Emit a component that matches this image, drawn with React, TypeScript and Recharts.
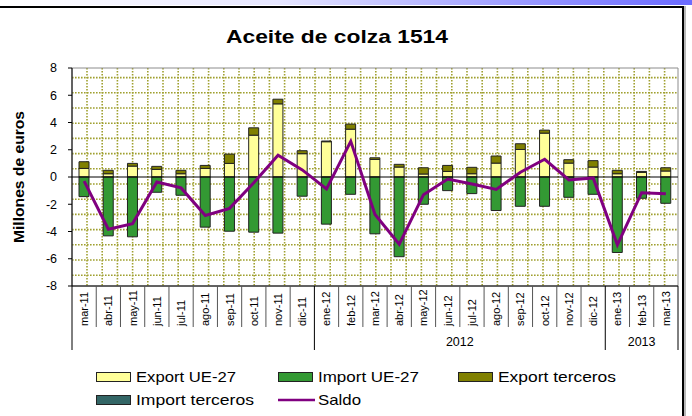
import React from 'react';
import {
  ComposedChart,
  Bar,
  Line,
  XAxis,
  YAxis,
  CartesianGrid,
  ReferenceLine,
  ReferenceArea,
  Legend,
} from 'recharts';

const months = [
  'mar-11', 'abr-11', 'may-11', 'jun-11', 'jul-11', 'ago-11', 'sep-11', 'oct-11', 'nov-11', 'dic-11',
  'ene-12', 'feb-12', 'mar-12', 'abr-12', 'may-12', 'jun-12', 'jul-12', 'ago-12', 'sep-12', 'oct-12', 'nov-12', 'dic-12',
  'ene-13', 'feb-13', 'mar-13',
];

const exportUE = [
  0.63, 0.24, 0.8, 0.56, 0.24, 0.63, 1.0, 3.07, 5.37, 1.71,
  2.59, 3.51, 1.29, 0.73, 0.22, 0.41, 0.24, 1.02, 2.02, 3.22, 1.02, 0.73,
  0.24, 0.34, 0.44,
];

const exportTerceros = [
  0.49, 0.25, 0.2, 0.22, 0.25, 0.22, 0.68, 0.54, 0.34, 0.22,
  0.05, 0.37, 0.12, 0.2, 0.46, 0.44, 0.47, 0.52, 0.42, 0.22, 0.25, 0.47,
  0.25, 0.07, 0.24,
];

const importUE = [
  -1.44, -4.32, -4.39, -1.12, -1.34, -3.68, -3.98, -4.05, -4.12, -1.41,
  -3.46, -1.27, -4.17, -5.85, -2.0, -1.0, -1.22, -2.46, -2.15, -2.15, -1.49, -1.27,
  -5.54, -1.56, -1.93,
];

const importTerceros = [
  0, 0, 0, 0, 0, 0, 0, 0, 0, 0,
  0, 0, 0, 0, 0, 0, 0, 0, 0, 0, 0, 0,
  0, 0, 0,
];

const saldo = [
  -0.3, -3.83, -3.42, -0.37, -0.8, -2.83, -2.3, -0.42, 1.6, 0.52,
  -0.87, 2.62, -2.75, -4.93, -1.3, -0.15, -0.51, -0.91, 0.35, 1.3, -0.22, -0.07,
  -4.98, -1.15, -1.23,
];

const yTicks = [-8, -6, -4, -2, 0, 2, 4, 6, 8];

const yearLabels: Record<string, string> = { '11': '', '12': '2012', '13': '2013' };

const seriesInfo = [
  { key: 'exportUE', name: 'Export UE-27', color: '#ffff99', kind: 'rect' },
  { key: 'importUE', name: 'Import UE-27', color: '#339933', kind: 'rect' },
  { key: 'exportTerceros', name: 'Export terceros', color: '#808000', kind: 'rect' },
  { key: 'importTerceros', name: 'Import terceros', color: '#336666', kind: 'rect' },
  { key: 'saldo', name: 'Saldo', color: '#800080', kind: 'line' },
];

const data = months.map((m, i) => ({
  month: m,
  exportUE: exportUE[i],
  exportTerceros: exportTerceros[i],
  importUE: importUE[i],
  importTerceros: importTerceros[i],
  saldo: saldo[i],
}));

const FONT = "'Liberation Sans', Arial, sans-serif";
const colorOf = (k: string) => seriesInfo.find((s) => s.key === k)!.color;

const yearOf = (m: string) => m.slice(-2);

function MonthTick(props: any) {
  const { x, y, payload } = props;
  const i: number = payload.index ?? props.index;
  const half: number =
    typeof payload.offset === 'number' && payload.offset > 0
      ? payload.offset
      : (props.width || 606) / months.length / 2;
  const yr = yearOf(months[i]);
  const isYearStart = i === 0 || yearOf(months[i - 1]) !== yr;
  const isLast = i === months.length - 1;
  const groupCount = months.filter((m) => yearOf(m) === yr).length;
  const left = x - half;
  const out: React.ReactNode[] = [];
  out.push(
    <line key="sep" x1={left} x2={left} y1={y} y2={y + (isYearStart ? 64 : 41)} stroke={isYearStart ? '#000' : '#555'} strokeWidth={1} />
  );
  if (isLast) {
    out.push(<line key="end" x1={x + half} x2={x + half} y1={y} y2={y + 64} stroke="#000" strokeWidth={1} />);
  }
  if (isYearStart && yearLabels[yr]) {
    out.push(
      <text key="yr" x={left + groupCount * half} y={y + 59.5} textAnchor="middle" fontSize={12.5} fontFamily={FONT} fill="#000">
        {yearLabels[yr]}
      </text>
    );
  }
  out.push(
    <text
      key="lbl"
      x={x}
      y={y + 40}
      dy="0.36em"
      transform={`rotate(-90 ${x} ${y + 40})`}
      textAnchor="start"
      fontSize={11}
      fontFamily={FONT}
      fill="#000"
    >
      {payload.value}
    </text>
  );
  return <g>{out}</g>;
}

const legendCols = [96, 278, 458];
const legendRows = [15, 38];
const legendTextLen = [100, 101, 118, 118, 43];

function LegendContent() {
  return (
    <svg width={692} height={50} style={{ display: 'block' }}>
      {seriesInfo.map((s, idx) => {
        const col = idx < 3 ? idx : idx - 3;
        const row = idx < 3 ? 0 : 1;
        const lx = legendCols[col];
        const cy = legendRows[row];
        return (
          <g key={s.key}>
            {s.kind === 'rect' ? (
              <rect x={lx + 0.5} y={cy - 4.5} width={34} height={9} fill={s.color} stroke="#222" strokeWidth={1} />
            ) : (
              <line x1={lx} x2={lx + 37} y1={cy} y2={cy} stroke={s.color} strokeWidth={2.5} />
            )}
            <text
              x={lx + 40}
              y={cy + 5.3}
              fontSize={15}
              fontFamily={FONT}
              fill="#000"
              textLength={legendTextLen[idx]}
              lengthAdjust="spacingAndGlyphs"
            >
              {s.name}
            </text>
          </g>
        );
      })}
    </svg>
  );
}

const GRID_STEP = 15.2;

export default function App() {
  return (
    <div style={{ position: 'absolute', left: 0, top: 0, width: 692, height: 416, background: '#fff', overflow: 'hidden' }}>
      <div
        style={{
          position: 'absolute',
          left: 0,
          top: 0,
          width: 692,
          height: 5,
          background: 'linear-gradient(90deg, #ffffff 0%, #e6e6ff 40%, #9a9aff 75%, #6a6aff 100%)',
        }}
      />
      <div
        style={{
          position: 'absolute',
          left: -2,
          top: 6,
          width: 686,
          height: 430,
          boxSizing: 'border-box',
          borderTop: '2px solid #000',
          borderRight: '2px solid #000',
          boxShadow: '2px 0 0 #b8b8b8',
        }}
      />
      <div style={{ position: 'absolute', left: 0, top: 0 }}>
        <ComposedChart
          width={692}
          height={416}
          data={data}
          stackOffset="sign"
          margin={{ top: 68, right: 14, bottom: 60, left: 32 }}
        >
          <CartesianGrid
            stroke="#a0a030"
            strokeWidth={1.6}
            strokeDasharray="1.6 1.4"
            horizontalCoordinatesGenerator={({ offset }: any) => {
              const res: number[] = [];
              for (let v = offset.top + 9.6; v < offset.top + offset.height - 1; v += GRID_STEP) res.push(v);
              return res;
            }}
            verticalCoordinatesGenerator={({ offset }: any) => {
              const res: number[] = [];
              for (let v = offset.left + 15; v < offset.left + offset.width - 1; v += GRID_STEP) res.push(v);
              return res;
            }}
          />
          <ReferenceArea y1={-8} y2={8} fill="none" fillOpacity={0} stroke="#8c8c8c" strokeWidth={1} />
          <XAxis
            dataKey="month"
            interval={0}
            height={70}
            tickLine={false}
            tickSize={0}
            tickMargin={0}
            axisLine={{ stroke: '#000' }}
            tick={(p: any) => <MonthTick {...p} />}
          />
          <YAxis
            domain={[-8, 8]}
            ticks={yTicks}
            interval={0}
            width={40}
            allowDataOverflow
            tickSize={4}
            tickMargin={11}
            axisLine={{ stroke: '#000' }}
            tickLine={{ stroke: '#000' }}
            tick={{ fontSize: 12.5, fill: '#000', fontFamily: FONT }}
          />
          <Bar dataKey="exportUE" name="Export UE-27" stackId="s" fill={colorOf('exportUE')} stroke="#222" strokeWidth={1} barSize={10} isAnimationActive={false} />
          <Bar dataKey="exportTerceros" name="Export terceros" stackId="s" fill={colorOf('exportTerceros')} stroke="#222" strokeWidth={1} barSize={10} isAnimationActive={false} />
          <Bar dataKey="importUE" name="Import UE-27" stackId="s" fill={colorOf('importUE')} stroke="#222" strokeWidth={1} barSize={10} isAnimationActive={false} />
          <Bar dataKey="importTerceros" name="Import terceros" stackId="s" fill={colorOf('importTerceros')} stroke="#222" strokeWidth={1} barSize={10} isAnimationActive={false} />
          <ReferenceLine y={0} stroke="#000" strokeWidth={1} />
          <Line
            dataKey="saldo"
            name="Saldo"
            type="linear"
            stroke={colorOf('saldo')}
            strokeWidth={3}
            dot={false}
            activeDot={false}
            isAnimationActive={false}
          />
          <Legend
            layout="horizontal"
            verticalAlign="middle"
            align="center"
            wrapperStyle={{ top: 362, left: 0, width: 692, height: 50 }}
            content={() => <LegendContent />}
          />
        </ComposedChart>
      </div>
      <svg width={692} height={416} style={{ position: 'absolute', left: 0, top: 0, pointerEvents: 'none' }}>
        <text
          x={337}
          y={43}
          textAnchor="middle"
          fontSize={19}
          fontWeight="bold"
          fontFamily={FONT}
          fill="#000"
          textLength={222}
          lengthAdjust="spacingAndGlyphs"
        >
          Aceite de colza 1514
        </text>
        <text
          x={19}
          y={177}
          transform="rotate(-90 19 177)"
          textAnchor="middle"
          dominantBaseline="central"
          fontSize={14}
          fontWeight="bold"
          fontFamily={FONT}
          fill="#000"
          textLength={132}
          lengthAdjust="spacingAndGlyphs"
        >
          Millones de euros
        </text>
      </svg>
    </div>
  );
}
